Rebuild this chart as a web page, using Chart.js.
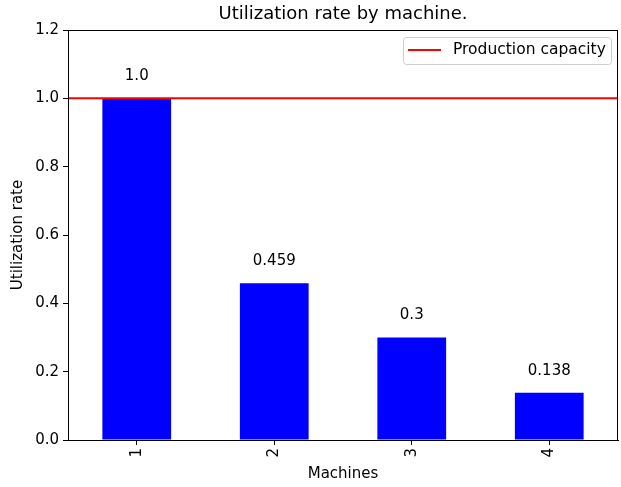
<!DOCTYPE html>
<html>
<head>
<meta charset="utf-8">
<script src="https://cdn.jsdelivr.net/npm/chart.js@4"></script>
<style>
  html, body { margin: 0; padding: 0; background: #fff; }
  canvas { display: block; }
</style>
</head>
<body>
<canvas id="chart" width="621" height="487"></canvas>
<script>
const machines = ['1', '2', '3', '4'];
const utilization = [1.0, 0.459, 0.3, 0.138];
const capacity = 1.0;
const yTicks = [0, 0.2, 0.4, 0.6, 0.8, 1.0, 1.2];

const FONT = '"DejaVu Sans", sans-serif';

function fmt(v) {
  return Number.isInteger(v) ? v.toFixed(1) : String(v);
}

const extras = {
  id: 'extras',
  afterDatasetsDraw(chart) {
    const ctx = chart.ctx;
    const a = chart.chartArea;
    const x = chart.scales.x, y = chart.scales.y;

    // capacity line
    const yc = y.getPixelForValue(capacity);
    ctx.save();
    ctx.strokeStyle = '#ff0000';
    ctx.lineWidth = 2;
    ctx.beginPath();
    ctx.moveTo(a.left, yc);
    ctx.lineTo(a.right, yc);
    ctx.stroke();

    // value labels
    ctx.fillStyle = '#000';
    ctx.font = '15px ' + FONT;
    ctx.textAlign = 'center';
    ctx.textBaseline = 'middle';
    utilization.forEach((v, i) => {
      ctx.fillText(fmt(v), x.getPixelForValue(i), y.getPixelForValue(v) - 22);
    });

    // frame
    ctx.strokeStyle = '#000';
    ctx.lineWidth = 1;
    ctx.strokeRect(a.left + 0.5, a.top + 0.5, a.right - a.left - 1, a.bottom - a.top);

    // titles
    ctx.font = '18px ' + FONT;
    ctx.fillText('Utilization rate by machine.', (a.left + a.right) / 2, 14);
    ctx.font = '15px ' + FONT;
    ctx.fillText('Machines', (a.left + a.right) / 2, 474);
    ctx.save();
    ctx.translate(18, (a.top + a.bottom) / 2);
    ctx.rotate(-Math.PI / 2);
    ctx.fillText('Utilization rate', 0, 0);
    ctx.restore();

    // legend
    const lx = 403, ly = 37, lw = 208, lh = 27, r = 3;
    ctx.fillStyle = 'rgba(255,255,255,0.8)';
    ctx.strokeStyle = '#cccccc';
    ctx.beginPath();
    ctx.roundRect(lx + 0.5, ly + 0.5, lw, lh, r);
    ctx.fill();
    ctx.stroke();
    ctx.strokeStyle = '#ff0000';
    ctx.lineWidth = 2;
    ctx.beginPath();
    ctx.moveTo(408, 50);
    ctx.lineTo(441, 50);
    ctx.stroke();
    ctx.fillStyle = '#000';
    ctx.textAlign = 'left';
    ctx.font = '15.5px ' + FONT;
    ctx.fillText('Production capacity', 453, 50);
    ctx.restore();
  }
};

new Chart(document.getElementById('chart'), {
  type: 'bar',
  data: {
    labels: machines,
    datasets: [{
      label: 'Utilization',
      data: utilization,
      backgroundColor: '#0000ff',
      borderWidth: 0,
      categoryPercentage: 1.0,
      barPercentage: 0.5
    }]
  },
  options: {
    responsive: false,
    animation: false,
    layout: { padding: { top: 30, right: 3, left: 0, bottom: 0 } },
    plugins: {
      legend: { display: false },
      title: { display: false },
      tooltip: { enabled: false }
    },
    scales: {
      x: {
        offset: true,
        grid: { offset: false, drawOnChartArea: false, drawTicks: true, tickLength: 5, color: '#000' },
        border: { display: true, color: '#000' },
        ticks: { color: '#000', font: { family: FONT, size: 15 }, minRotation: 90, maxRotation: 90, padding: 3 },
        afterFit(s) { s.height = 47; }
      },
      y: {
        min: 0,
        max: 1.2,
        afterBuildTicks(s) { s.ticks = yTicks.map(v => ({ value: v })); },
        grid: { drawOnChartArea: false, drawTicks: true, tickLength: 5, color: '#000' },
        border: { display: true, color: '#000' },
        ticks: { color: '#000', font: { family: FONT, size: 15 }, padding: 4, callback: v => v.toFixed(1) },
        afterFit(s) { s.width = 68; }
      }
    }
  },
  plugins: [extras]
});
</script>
</body>
</html>
